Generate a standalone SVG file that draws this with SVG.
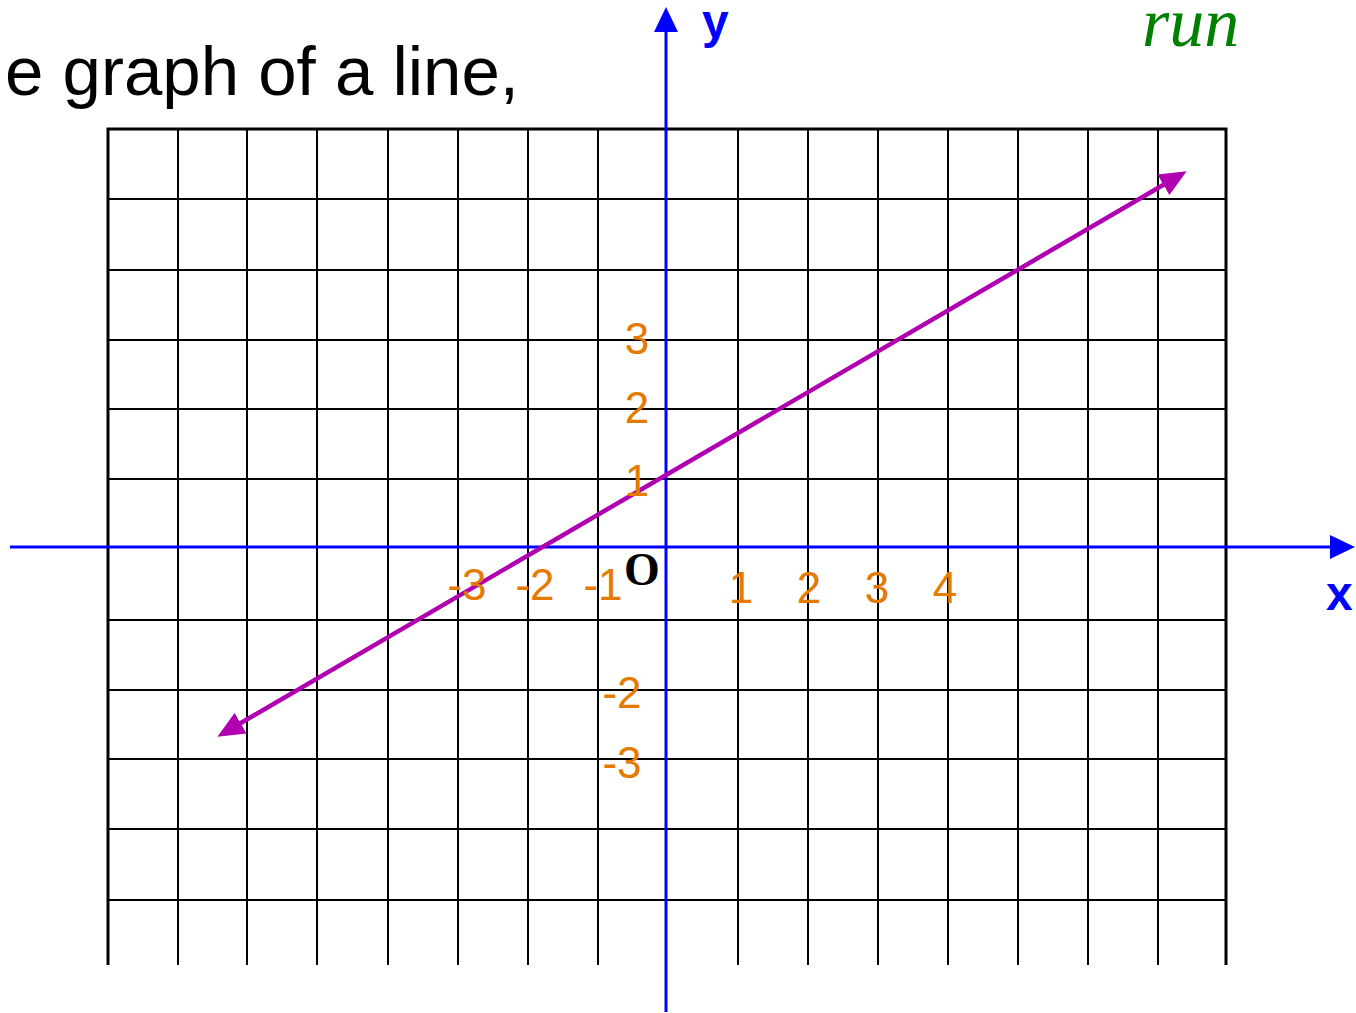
<svg xmlns="http://www.w3.org/2000/svg" width="1356" height="1013" viewBox="0 0 1356 1013">
<style>
.grid line{stroke:#000;stroke-width:2}
.border{stroke:#000;stroke-width:3;fill:none}
.axis{stroke:#0000ff;stroke-width:3}
.lab{font-family:"Liberation Sans",Arial,sans-serif;font-size:44px;fill:#e57a00;text-anchor:middle}
.axlab{font-family:"Liberation Sans",Arial,sans-serif;font-size:48px;font-weight:bold;fill:#0000ff}
</style>
<defs>
<marker id="ah" markerUnits="userSpaceOnUse" markerWidth="28" markerHeight="24" refX="20" refY="11" orient="auto-start-reverse" viewBox="0 0 26 22">
<path d="M0,0 L25,11 L0,22 Z" fill="#b000b0"/>
</marker>
<marker id="bh" markerUnits="userSpaceOnUse" markerWidth="26" markerHeight="26" refX="2" refY="12" orient="auto" viewBox="0 0 26 24">
<path d="M0,0 L25,12 L0,24 Z" fill="#0000ff"/>
</marker>
</defs>
<rect width="1356" height="1013" fill="#fff"/>
<g id="title"><text x="5" y="95" font-family="Liberation Sans,Arial,sans-serif" font-size="69" fill="#000">e graph of a line,</text></g>
<g id="run"><text x="1142" y="46" font-family="Liberation Serif,Times New Roman,serif" font-style="italic" font-size="70" fill="#008000">run</text></g>
<g id="grid" class="grid">
<line x1="178" y1="129" x2="178" y2="965"/><line x1="247" y1="129" x2="247" y2="965"/><line x1="317" y1="129" x2="317" y2="965"/><line x1="388" y1="129" x2="388" y2="965"/><line x1="458" y1="129" x2="458" y2="965"/><line x1="528" y1="129" x2="528" y2="965"/><line x1="598" y1="129" x2="598" y2="965"/><line x1="738" y1="129" x2="738" y2="965"/><line x1="808" y1="129" x2="808" y2="965"/><line x1="878" y1="129" x2="878" y2="965"/><line x1="948" y1="129" x2="948" y2="965"/><line x1="1018" y1="129" x2="1018" y2="965"/><line x1="1088" y1="129" x2="1088" y2="965"/><line x1="1158" y1="129" x2="1158" y2="965"/>
<line x1="108" y1="199" x2="1226" y2="199"/><line x1="108" y1="270" x2="1226" y2="270"/><line x1="108" y1="340" x2="1226" y2="340"/><line x1="108" y1="409" x2="1226" y2="409"/><line x1="108" y1="479" x2="1226" y2="479"/><line x1="108" y1="620" x2="1226" y2="620"/><line x1="108" y1="690" x2="1226" y2="690"/><line x1="108" y1="759" x2="1226" y2="759"/><line x1="108" y1="829" x2="1226" y2="829"/><line x1="108" y1="900" x2="1226" y2="900"/>
<path class="border" d="M108,965 V129 H1226 V965"/>
</g>
<g id="connectors">
<line class="axis" x1="10" y1="547" x2="1332" y2="547" marker-end="url(#bh)"/>
<line class="axis" x1="666" y1="1012" x2="666" y2="30" marker-end="url(#bh)"/>
<line x1="222" y1="734" x2="1182" y2="174" stroke="#b000b0" stroke-width="4.5" marker-start="url(#ah)" marker-end="url(#ah)"/>
</g>
<g id="axis-labels">
<text class="axlab" x="702" y="38">y</text>
<text class="axlab" x="1326" y="610">x</text>
<text x="624" y="585" font-family="Liberation Serif,Times New Roman,serif" font-weight="bold" font-size="46" fill="#000">O</text>
</g>
<g id="ticks">
<text class="lab" x="637" y="354">3</text>
<text class="lab" x="637" y="423">2</text>
<text class="lab" x="637" y="496">1</text>
<text class="lab" x="467" y="600">-3</text>
<text class="lab" x="535" y="600">-2</text>
<text class="lab" x="603" y="600">-1</text>
<text class="lab" x="741" y="603">1</text>
<text class="lab" x="809" y="603">2</text>
<text class="lab" x="877" y="603">3</text>
<text class="lab" x="945" y="603">4</text>
<text class="lab" x="622" y="708">-2</text>
<text class="lab" x="622" y="778">-3</text>
</g>
</svg>
